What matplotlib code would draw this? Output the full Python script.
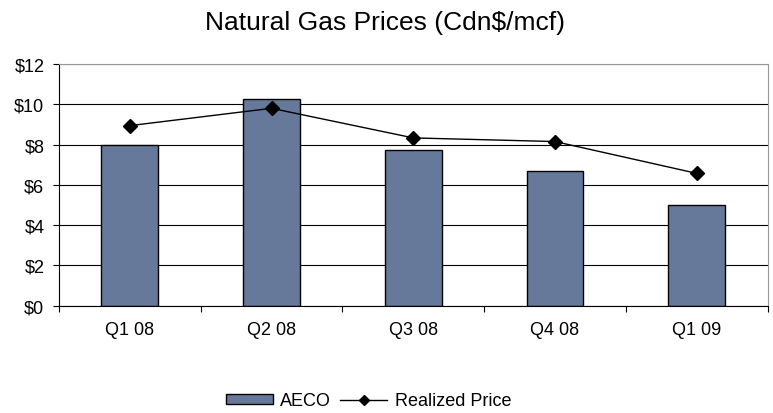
import numpy as np
import matplotlib.pyplot as plt

# Data
quarters = ['Q1 08', 'Q2 08', 'Q3 08', 'Q4 08', 'Q1 09']
aeco = [8.0, 10.25, 7.73, 6.67, 5.0]
realized = [8.94, 9.80, 8.33, 8.15, 6.57]

plt.rcParams['font.family'] = ['Liberation Sans', 'DejaVu Sans']

fig = plt.figure(figsize=(7.73, 4.14), dpi=100)
ax = fig.add_axes([0.0763, 0.2592, 0.9167, 0.5838])

x = np.arange(len(quarters))
bars = ax.bar(x, aeco, width=0.4, color='#66799B', edgecolor='black', linewidth=1.0,
              label='AECO', zorder=2)
line, = ax.plot(x, realized, color='black', linewidth=1.0, marker='D', markersize=7.5,
                label='Realized Price', zorder=3)

ax.set_xlim(-0.5, len(quarters) - 0.5)
ax.set_ylim(0, 12)
ax.set_yticks(np.arange(0, 13, 2))
ax.set_yticklabels(['$%d' % v for v in range(0, 13, 2)], fontsize=13)
ax.yaxis.grid(True, color='black', linewidth=0.8, zorder=0)
ax.set_axisbelow(True)

# category ticks at boundaries, labels centred
ax.set_xticks(np.arange(-0.5, len(quarters), 1.0))
ax.set_xticklabels([])
ax.set_xticks(x, minor=True)
ax.set_xticklabels(quarters, minor=True, fontsize=13)
ax.tick_params(axis='x', which='minor', length=0, pad=11)
ax.tick_params(axis='x', which='major', direction='out', length=4.5, color='black')
ax.tick_params(axis='y', direction='out', length=4.5, pad=6)

ax.spines['top'].set_color('#999999')
ax.spines['right'].set_color('#999999')
ax.spines['left'].set_color('black')
ax.spines['bottom'].set_color('black')

fig.text(0.498, 1 - 30 / 414, 'Natural Gas Prices (Cdn$/mcf)', fontsize=19,
         ha='center', va='baseline')

ax.legend([bars, line], ['AECO', 'Realized Price'], loc='center',
          bbox_to_anchor=(0.437, -0.393), ncol=2, frameon=False,
          fontsize=13, handlelength=2.6, handleheight=0.45, handletextpad=0.4,
          columnspacing=0.5, markerscale=0.65, borderpad=0)

fig.savefig('out.png', dpi=100)
